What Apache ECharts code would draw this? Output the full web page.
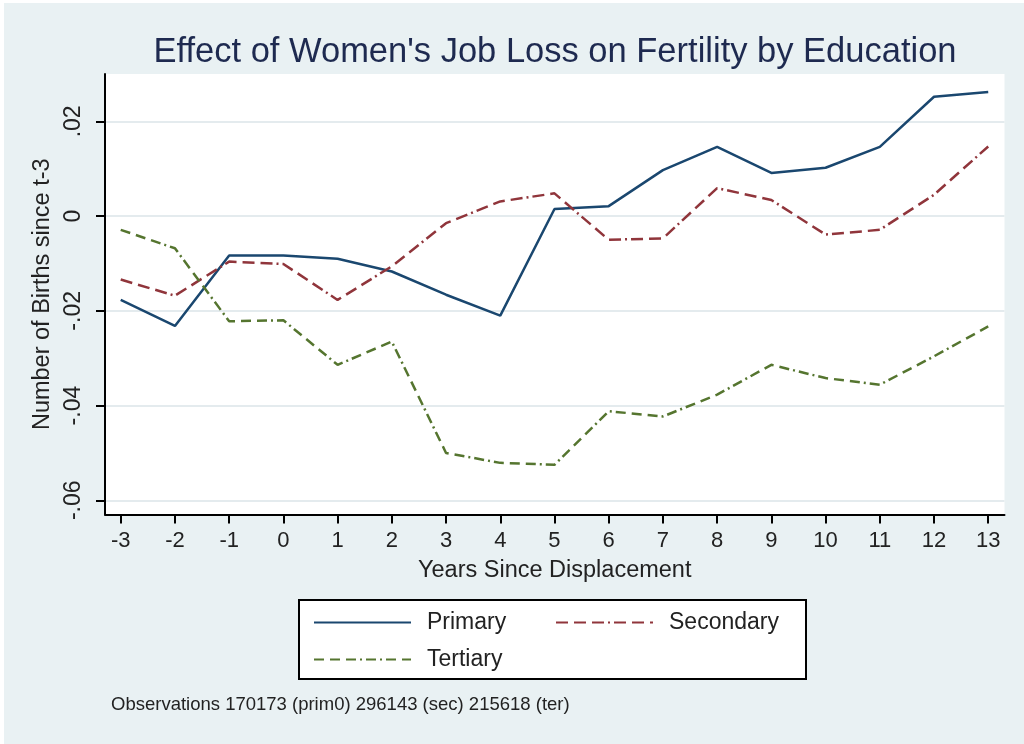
<!DOCTYPE html>
<html>
<head>
<meta charset="utf-8">
<script src="https://cdn.jsdelivr.net/npm/echarts@6/dist/echarts.min.js"></script>
<style>
  html, body { margin: 0; padding: 0; background: #ffffff; }
  #chart { position: absolute; left: 4px; top: 3px; width: 1020px; height: 741px; background: #e9f1f3; }
</style>
</head>
<body>
<div id="chart"></div>
<script>
// Years relative to job displacement
const years = [-3, -2, -1, 0, 1, 2, 3, 4, 5, 6, 7, 8, 9, 10, 11, 12, 13];

// Cumulative births since t-3, by education group
const primary   = [-0.0177, -0.0232, -0.0083, -0.0083, -0.0090, -0.0117, -0.0166, -0.0210, 0.0015, 0.0021, 0.0097, 0.0146, 0.0091, 0.0102, 0.0146, 0.0252, 0.0262];
const secondary = [-0.0134, -0.0168, -0.0096, -0.0101, -0.0177, -0.0106, -0.0015, 0.0031, 0.0048, -0.0050, -0.0047, 0.0059, 0.0034, -0.0039, -0.0029, 0.0045, 0.0147];
const tertiary  = [-0.0029, -0.0068, -0.0222, -0.0220, -0.0314, -0.0265, -0.0500, -0.0521, -0.0525, -0.0412, -0.0423, -0.0377, -0.0314, -0.0342, -0.0356, -0.0296, -0.0233];

// Axis ticks
const xTicks = [-3, -2, -1, 0, 1, 2, 3, 4, 5, 6, 7, 8, 9, 10, 11, 12, 13];
const yTicks = [-0.06, -0.04, -0.02, 0, 0.02];

const titleText = "Effect of Women's Job Loss on Fertility by Education";
const noteText = 'Observations 170173 (prim0) 296143 (sec) 215618 (ter)';

function pairs(vals) { return years.map((x, i) => [x, vals[i]]); }

function fmtY(v) {
  if (Math.abs(v) < 1e-9) return '0';
  return v.toFixed(2).replace('0.', '.');
}

const chart = echarts.init(document.getElementById('chart'), null, { renderer: 'canvas' });
const font = 'Liberation Sans, Arial, Helvetica, sans-serif';
const ink = '#222222';

const seriesStyle = [
  { name: 'Primary',   data: primary,   color: '#1a476f', dash: 'solid' },
  { name: 'Secondary', data: secondary, color: '#90353b', dash: [12, 6, 12, 6, 12, 4, 2, 4] },
  { name: 'Tertiary',  data: tertiary,  color: '#55752f', dash: [10, 6, 10, 6, 10, 4, 2, 4, 10, 4, 2, 4] }
];

const legendBase = {
  orient: 'horizontal',
  padding: 0,
  itemWidth: 97,
  itemHeight: 22,
  itemStyle: { opacity: 0 },
  textStyle: { fontFamily: font, fontSize: 23, color: ink, padding: [0, 0, 0, 11] },
  selectedMode: false
};

chart.setOption({
  backgroundColor: 'transparent',
  animation: false,
  textStyle: { fontFamily: font },
  title: [
    {
      text: titleText,
      left: 551, top: 32, padding: 0,
      textAlign: 'center',
      textStyle: { fontFamily: font, fontSize: 34.5, fontWeight: 'normal', color: '#1e2a50' }
    },
    {
      text: noteText,
      left: 107, top: 692, padding: 0,
      textStyle: { fontFamily: font, fontSize: 18.5, fontWeight: 'normal', color: ink }
    }
  ],
  graphic: [
    {
      type: 'rect',
      shape: { x: 295, y: 597, width: 507, height: 79 },
      style: { fill: '#ffffff', stroke: '#000000', lineWidth: 2 },
      z: 0
    }
  ],
  legend: [
    Object.assign({}, legendBase, { data: ['Primary'],   left: 309, top: 608 }),
    Object.assign({}, legendBase, { data: ['Secondary'], left: 551, top: 608 }),
    Object.assign({}, legendBase, { data: ['Tertiary'],  left: 309, top: 645 })
  ],
  grid: {
    left: 101, right: 19.5, top: 71, bottom: 229.5,
    show: true, backgroundColor: '#ffffff', borderWidth: 0
  },
  xAxis: {
    type: 'value',
    min: -3.29, max: 13.3,
    name: 'Years Since Displacement',
    nameLocation: 'middle',
    nameGap: 44,
    nameTextStyle: { fontFamily: font, fontSize: 23.5, color: ink },
    axisLine: { show: true, onZero: false, lineStyle: { color: '#000', width: 2 } },
    axisTick: { show: true, inside: false, length: 9, lineStyle: { color: '#000', width: 2 }, customValues: xTicks },
    axisLabel: { customValues: xTicks, margin: 15, fontFamily: font, fontSize: 22, color: ink,
                 formatter: v => String(v) },
    splitLine: { show: false }
  },
  yAxis: {
    type: 'value',
    min: -0.063, max: 0.0300,
    name: 'Number of Births since t-3',
    nameLocation: 'middle',
    nameRotate: 90,
    nameGap: 49,
    nameTextStyle: { fontFamily: font, fontSize: 23.5, color: ink },
    axisLine: { show: true, onZero: false, lineStyle: { color: '#000', width: 2 } },
    axisTick: { show: true, inside: false, length: 9, lineStyle: { color: '#000', width: 2 }, customValues: yTicks },
    axisLabel: { customValues: yTicks, rotate: 90, margin: 20, fontFamily: font, fontSize: 23, color: ink,
                 formatter: fmtY },
    splitLine: { show: true, lineStyle: { color: '#e4ebee', width: 2 } }
  },
  series: seriesStyle.map(s => ({
    name: s.name,
    type: 'line',
    data: pairs(s.data),
    symbol: 'none',
    showSymbol: false,
    smooth: false,
    color: s.color,
    lineStyle: { color: s.color, width: 2.5, type: s.dash },
    z: 3
  }))
});
</script>
</body>
</html>
